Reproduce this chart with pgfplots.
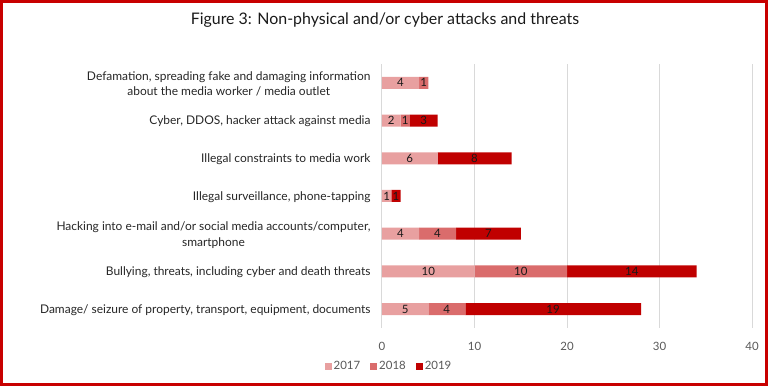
\documentclass[border=0pt]{standalone}
\usepackage{pgfplots}
\pgfplotsset{compat=1.18}
\usepackage{pgfplotstable}
\usepackage{fontspec}
\setmainfont{Lato}
\definecolor{cA}{HTML}{E8A0A0}
\definecolor{cB}{HTML}{DA6C6C}
\definecolor{cC}{HTML}{C00000}
\definecolor{frame}{HTML}{C80000}
\definecolor{gridc}{HTML}{D9D9D9}
\definecolor{tickc}{HTML}{595959}
\pgfplotstableread{
y a b c
0 5 4 19
1 10 10 14
2 4 4 7
3 1 0 1
4 6 0 8
5 2 1 3
6 4 1 0
}\data
\begin{document}
\begin{tikzpicture}
\useasboundingbox (0bp,0bp) rectangle (768bp,386bp);
\draw[frame, line width=3bp] (1.5bp,1.5bp) rectangle (766.5bp,384.5bp);
\node[font=\fontsize{16}{19}\selectfont, text=black!90] at (385bp,366bp) {Figure 3: Non-physical and/or cyber attacks and threats};
\begin{axis}[
  at={(382bp,58bp)}, anchor=south west,
  scale only axis, width=370bp, height=264bp,
  xbar stacked, bar width=12bp,
  xmin=0, xmax=40, ymin=-0.5, ymax=6.5,
  xtick={0,10,...,40},
  ytick={0,...,6},
  yticklabels={
    {Damage/ seizure of property, transport, equipment, documents},
    {Bullying, threats, including cyber and death threats},
    {Hacking into e-mail and/or social media accounts/computer,\\smartphone},
    {Illegal surveillance, phone-tapping},
    {Illegal constraints to media work},
    {Cyber, DDOS, hacker attack against media},
    {Defamation, spreading fake and damaging information\\about the media worker / media outlet}},
  yticklabel style={align=center, font=\fontsize{12}{16}\selectfont, text=black!85, xshift=-8bp, yshift=-1bp},
  xticklabel style={font=\fontsize{11.5}{13}\selectfont, text=tickc, yshift=-11bp},
  /pgf/number format/assume math mode=true,
  xmajorgrids, grid style={gridc, line width=1bp},
  major tick length=0pt,
  axis line style={draw=none},
  point meta=explicit,
  nodes near coords={\pgfmathfloatifflags{\pgfplotspointmeta}{0}{}{\pgfmathprintnumber{\pgfplotspointmeta}}},
  every node near coord/.style={anchor=center, font=\fontsize{11.5}{13}\selectfont, text=black!90},
  legend style={at={(axis description cs:0.019,-0.144)}, anchor=center, draw=none, legend columns=-1,
    font=\fontsize{11.5}{13}\selectfont, text=tickc,
    /tikz/every even column/.append style={column sep=8bp}},
  legend image code/.code={\fill[#1] (0bp,-3.5bp) rectangle (7bp,3.5bp);},
]
\addplot[fill=cA, draw=none] table[x=a, y=y, meta=a] {\data};
\addplot[fill=cB, draw=none] table[x=b, y=y, meta=b] {\data};
\addplot[fill=cC, draw=none] table[x=c, y=y, meta=c] {\data};
\legend{2017,2018,2019}
\end{axis}
\end{tikzpicture}
\end{document}
